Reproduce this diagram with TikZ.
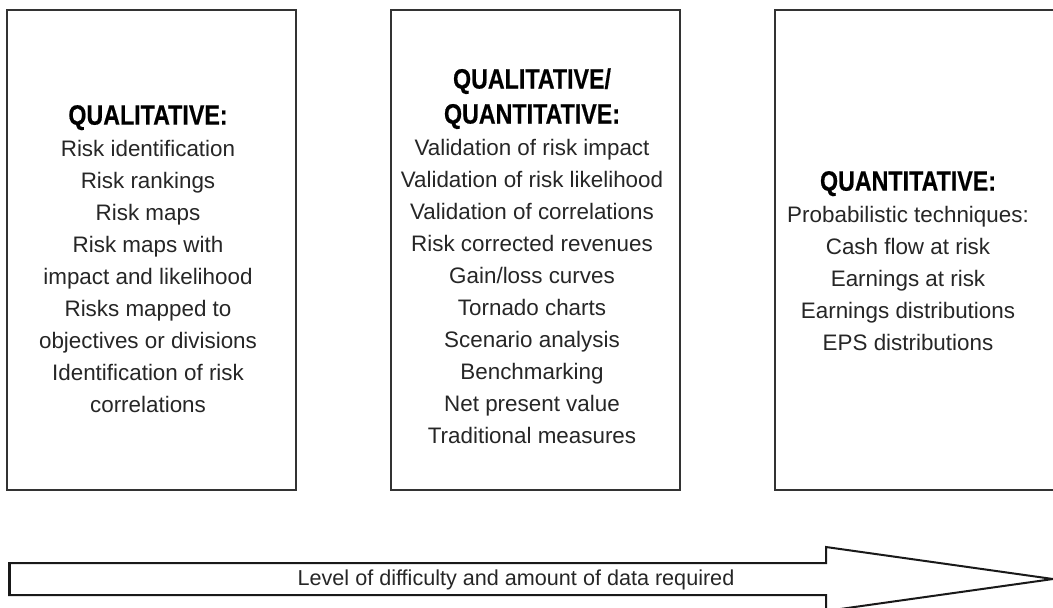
\documentclass[tikz,border=0pt]{standalone}
\usepackage{fontspec}
\setmainfont{Liberation Sans}
\newfontfamily\headfont[FakeStretch=0.83, FakeBold=0.4]{Liberation Sans}
\usetikzlibrary{positioning}

\tikzset{
  panel/.style={draw=black!80, line width=0.65pt, outer sep=0pt, inner sep=0pt,
                minimum width=144.5pt, minimum height=240pt},
  paneltext/.style={align=center, inner sep=0pt, text=black!85,
                    font=\fontsize{11.2}{16}\selectfont},
  bigarrow/.style={draw=black!90, line width=1pt, line join=miter},
  scalelabel/.style={inner sep=0pt, text=black!85, font=\fontsize{10.8}{13}\selectfont}
}
\newcommand{\head}[1]{{\fontsize{14}{16}\headfont\bfseries\color{black} #1}}

\begin{document}
\begin{tikzpicture}[x=0.5pt, y=-0.5pt]
    \clip (0,0) rectangle (1053,607);
    \fill[white] (0,0) rectangle (1053,607);

    % the three panels
    \node[panel] (qual) at (151.5,250) {};
    \node[panel, right=47.5pt of qual] (mixed) {};
    \node[panel, right=47.5pt of mixed] (quant) {};

    \node[paneltext, xshift=-1.75pt, yshift=-4.5pt] (qualtext) at (qual) {%
        \head{QUALITATIVE:}\\
        Risk identification\\
        Risk rankings\\
        Risk maps\\
        Risk maps with\\
        impact and likelihood\\
        Risks mapped to\\
        objectives or divisions\\
        Identification of risk\\
        correlations};
    \node[paneltext, xshift=-1.75pt, yshift=-3pt] (mixedtext) at (mixed) {%
        \head{QUALITATIVE/}\\[1.5pt]
        \head{QUANTITATIVE:}\\
        Validation of risk impact\\
        Validation of risk likelihood\\
        Validation of correlations\\
        Risk corrected revenues\\
        Gain/loss curves\\
        Tornado charts\\
        Scenario analysis\\
        Benchmarking\\
        Net present value\\
        Traditional measures};
    \node[paneltext, xshift=-5.75pt, yshift=-5.5pt] (quanttext) at (quant) {%
        \head{QUANTITATIVE:}\\
        Probabilistic techniques:\\
        Cash flow at risk\\
        Earnings at risk\\
        Earnings distributions\\
        EPS distributions};

    % difficulty arrow
    \draw[bigarrow] (9,563) -- (826,563) -- (826,547) -- (1053,579)
        -- (826,611) -- (826,595) -- (9,595) -- cycle;
    \draw[bigarrow, line width=1.5pt] (9,563) -- (9,595);
    \node[scalelabel] (scale) at (516,580) {Level of difficulty and amount of data required};
\end{tikzpicture}
\end{document}
